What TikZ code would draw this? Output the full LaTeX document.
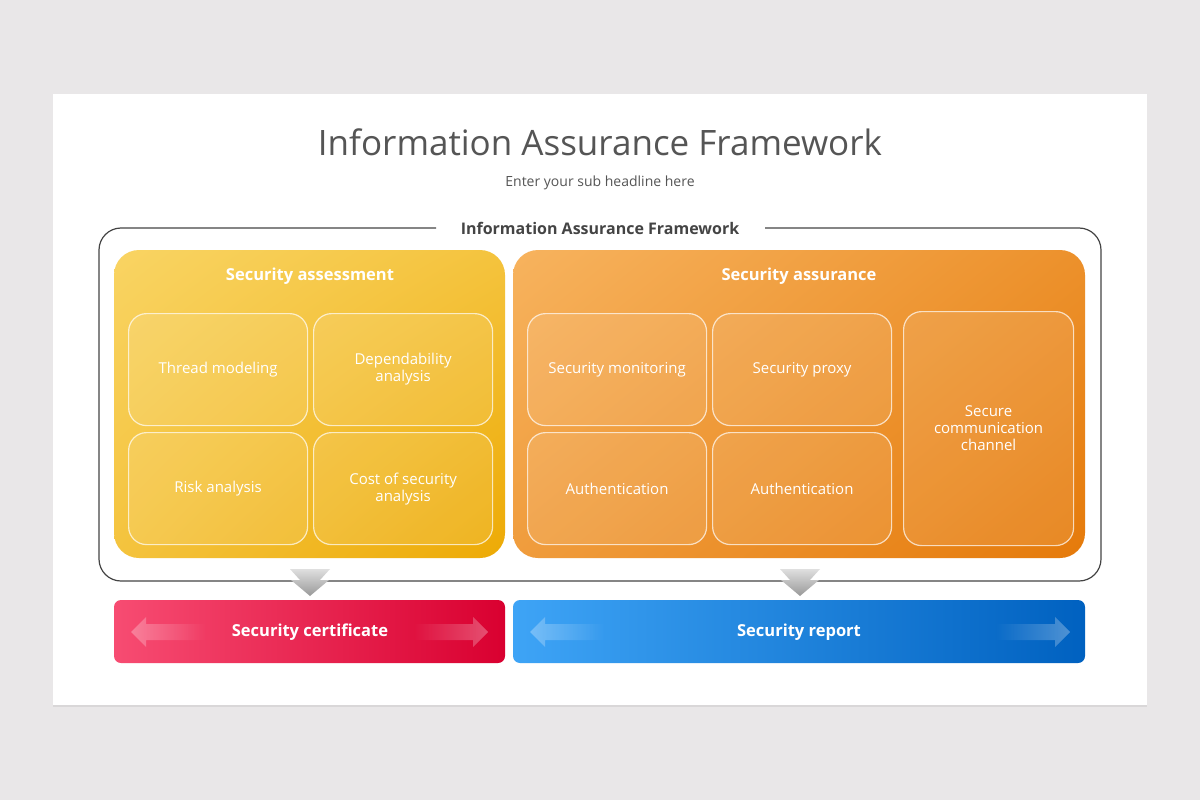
\documentclass[tikz,border=0pt]{standalone}
\usepackage{fontspec}
\setmainfont{Open Sans}
\usetikzlibrary{fadings,shadows,shadings}
\definecolor{bg}{HTML}{E9E7E8}
\definecolor{tgray}{HTML}{555555}
\definecolor{fgray}{HTML}{444444}
\definecolor{y1}{HTML}{F9D463}\definecolor{y2}{HTML}{EDAA05}
\definecolor{o1}{HTML}{F7B35E}\definecolor{o2}{HTML}{E57A0A}
\definecolor{r1}{HTML}{F74C72}\definecolor{r2}{HTML}{D90030}
\definecolor{b1}{HTML}{3EA4F6}\definecolor{b2}{HTML}{0061C0}
\begin{document}
\begin{tikzpicture}[x=1pt,y=-1pt,
  inner/.style={draw=white,draw opacity=0.7,line width=1.2pt,fill=white,fill opacity=0.1,text opacity=1,rounded corners=18pt,minimum width=179pt,minimum height=112pt,anchor=north west,inner sep=0pt},
  itxt/.style={text=white,font=\fontsize{15}{17}\selectfont,align=center},
  head/.style={text=white,font=\bfseries\fontsize{16.5}{18}\selectfont},
  dn/.style={top color=gray!25,bottom color=gray!80}]
\fill[bg] (0,0) rectangle (1200,800);
\fill[white,drop shadow={opacity=0.15,shadow xshift=0pt,shadow yshift=-2pt}] (53,94) rectangle (1147,705);
\node[text=tgray,font=\fontsize{35}{40}\selectfont] (title) at (600,142) {Information Assurance Framework};
\node[text=tgray,font=\fontsize{14}{16}\selectfont] (sub) at (600,183) {Enter your sub headline here};
% frame
\draw[fgray,line width=1.2pt,rounded corners=22pt] (436,228) -- (99,228) -- (99,581) -- (1101,581) -- (1101,228) -- (765,228);
\node[text=fgray,font=\bfseries\fontsize{16}{18}\selectfont] (fl) at (600,228) {Information Assurance Framework};
% yellow
\shade[rounded corners=25pt,upper left=y1,lower right=y2,upper right=y2!40!y1,lower left=y1!60!y2] (114,250) rectangle (505,558);
\node[head] (sa) at (310,276) {Security assessment};
\node[inner] (a1) at (128,313) {}; \node[itxt] at (a1.center) {Thread modeling};
\node[inner] (a2) at (313,313) {}; \node[itxt] at (a2.center) {Dependability\\analysis};
\node[inner] (a3) at (128,432) {}; \node[itxt] at (a3.center) {Risk analysis};
\node[inner] (a4) at (313,432) {}; \node[itxt] at (a4.center) {Cost of security\\analysis};
% orange
\shade[rounded corners=25pt,upper left=o1,lower right=o2,upper right=o2!60!o1,lower left=o1!60!o2] (513,250) rectangle (1085,558);
\node[head] (sb) at (799,276) {Security assurance};
\node[inner] (b1) at (527,313) {}; \node[itxt] at (b1.center) {Security monitoring};
\node[inner] (b2) at (712,313) {}; \node[itxt] at (b2.center) {Security proxy};
\node[inner] (b3) at (527,432) {}; \node[itxt] at (b3.center) {Authentication};
\node[inner] (b4) at (712,432) {}; \node[itxt] at (b4.center) {Authentication};
\node[inner,minimum width=170pt,minimum height=234pt] (b5) at (903,311) {}; \node[itxt] at (b5.center) {Secure\\communication\\channel};
% down arrows
\foreach \cx in {310,800}{
\shade[dn] (\cx-20,569) -- (\cx+20,569) -- (\cx+10,580) -- (\cx+19,580) -- (\cx,596) -- (\cx-19,580) -- (\cx-10,580) -- cycle;}
% bars
\shade[rounded corners=7pt,left color=r1,right color=r2] (114,600) rectangle (505,663);
\shade[rounded corners=7pt,left color=b1,right color=b2] (513,600) rectangle (1085,663);
\foreach \l/\r in {131/488,530/1070}{
\fill[white,opacity=0.3,path fading=east] (\l,632) -- (\l+15,617) -- (\l+15,624) -- (\l+75,624) -- (\l+75,640) -- (\l+15,640) -- (\l+15,647) -- cycle;
\fill[white,opacity=0.3,path fading=west] (\r,632) -- (\r-15,617) -- (\r-15,624) -- (\r-75,624) -- (\r-75,640) -- (\r-15,640) -- (\r-15,647) -- cycle;}
\node[head] (sc) at (310,632) {Security certificate};
\node[head] (sr) at (799,632) {Security report};
\end{tikzpicture}
\end{document}
